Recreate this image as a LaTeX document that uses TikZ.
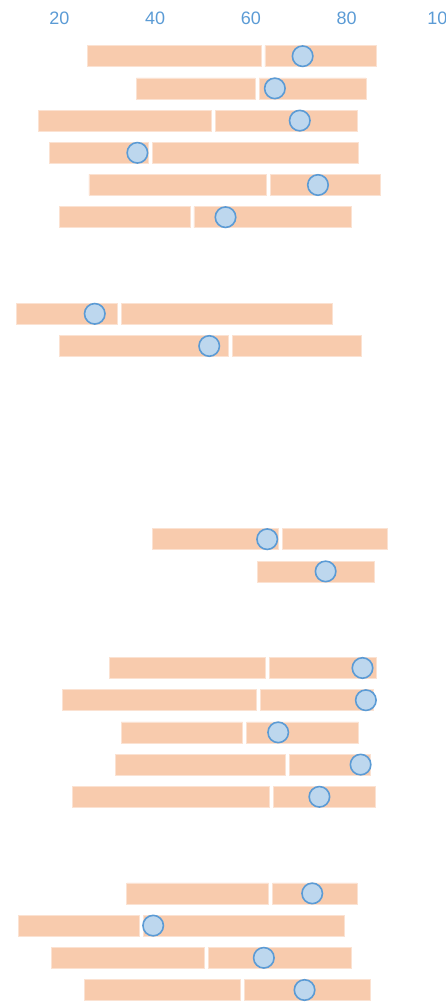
\documentclass[tikz,border=0pt]{standalone}
\usepackage{fontspec}
\setmainfont{Liberation Sans}
\definecolor{barfill}{HTML}{F8CBAD}
\definecolor{dotfill}{HTML}{BDD7EE}
\definecolor{dotline}{HTML}{5B9BD5}
\begin{document}
\begin{tikzpicture}[x=4.79pt,y=-32.2pt,
		bar/.style={fill=barfill,draw=barfill!55!white,line width=0.7pt},
		dot/.style={circle,fill=dotfill,draw=dotline,line width=1.6pt,minimum size=20.5pt,inner sep=0pt},
		tick/.style={text=dotline,font=\fontsize{18}{20}\selectfont}]
			\useasboundingbox (7.62,-1.745) rectangle (100.73,29.373);
			\foreach \v in {20,40,60,80,100} \node[tick] (t\v) at (\v,-1.19) {\v};
			\foreach \r/\s/\g/\e/\c in {0/25.8/62.5/86.1/70.8, 1/36.1/61.3/84.0/65.0, 2/15.6/52.1/82.3/70.2,
					3/18.0/39.1/82.5/36.3, 4/26.2/63.6/87.0/74.0, 5/20.0/47.7/80.9/54.7,
					8/11.0/32.6/76.9/27.4, 9/20.0/55.7/83.0/51.3, 15/39.4/66.1/88.4/63.4,
					19/30.4/63.4/86.2/83.3, 20/20.6/61.5/85.5/84.0, 21/32.9/58.7/82.5/65.7,
					22/31.8/67.7/84.9/82.9, 23/22.7/64.2/86.0/74.3, 26/34.1/64.1/82.2/72.8,
					27/11.4/37.2/79.6/39.6, 28/18.3/50.8/81.0/62.7, 29/25.3/58.2/85.0/71.2}
				\draw[bar] (\s,\r-0.326) rectangle (\g-0.42,\r+0.326)
					(\g+0.42,\r-0.326) rectangle (\e,\r+0.326);
			\draw[bar] (61.3,15.674) rectangle (85.7,16.326);
			\foreach \r/\c in {0/70.8,1/65.0,2/70.2,3/36.3,4/74.0,5/54.7,8/27.4,9/51.3,15/63.4,16/75.6,
					19/83.3,20/84.0,21/65.7,22/82.9,23/74.3,26/72.8,27/39.6,28/62.7,29/71.2}
				\node[dot] (d\r) at (\c,\r) {};
\end{tikzpicture}
\end{document}
